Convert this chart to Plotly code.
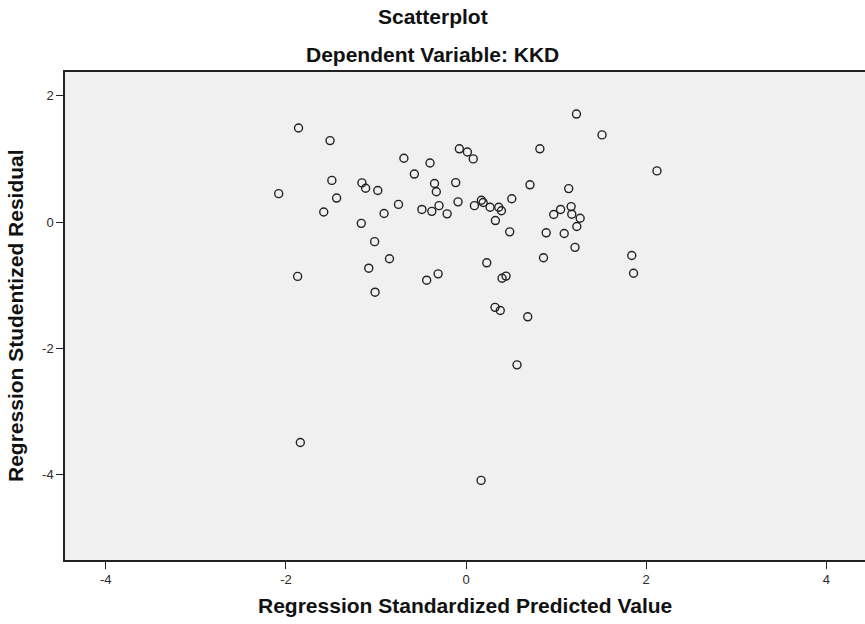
import plotly.graph_objects as go

# Regression Standardized Predicted Value (x) and Studentized Residual (y)
pred_x = [-1.86, -1.51, -0.074, 0.015, 0.08, -0.69, -0.40, -0.574, -1.49, -1.156,
          -1.115, -0.98, -0.35, -0.33, -0.115, -2.08, -1.437, -1.58, -0.75, -0.089,
          0.093, -0.49, -0.38, -0.30, -0.21, -0.91, -1.163, -1.015, -0.85, -1.08,
          -1.87, -0.437, -0.31, -1.01, 1.226, 1.51, 2.12, 0.82, 0.71, 1.14,
          0.17, 0.19, 0.267, 0.363, 0.393, 0.508, 0.326, 0.485, 0.974, 1.05,
          1.167, 1.174, 1.267, 1.23, 0.89, 1.09, 1.21, 0.86, 1.84, 1.86,
          0.23, 0.40, 0.444, 0.322, 0.38, 0.685, 0.566, -1.84, 0.167]
resid_y = [1.49, 1.29, 1.16, 1.11, 1.00, 1.01, 0.935, 0.76, 0.66, 0.62,
           0.535, 0.50, 0.61, 0.48, 0.625, 0.45, 0.38, 0.16, 0.28, 0.32,
           0.26, 0.20, 0.17, 0.26, 0.13, 0.135, -0.02, -0.31, -0.58, -0.73,
           -0.86, -0.92, -0.82, -1.11, 1.71, 1.38, 0.81, 1.16, 0.59, 0.53,
           0.345, 0.31, 0.235, 0.235, 0.18, 0.37, 0.024, -0.155, 0.12, 0.20,
           0.245, 0.125, 0.06, -0.07, -0.17, -0.18, -0.40, -0.565, -0.53, -0.81,
           -0.645, -0.89, -0.855, -1.35, -1.40, -1.50, -2.26, -3.49, -4.09]

x_ticks = [-4, -2, 0, 2, 4]
x_tick_labels = ["-4", "-2", "0", "2", "4"]
y_ticks = [-4, -2, 0, 2]
y_tick_labels = ["-4", "-2", "0", "2"]

W, H = 865, 624
ML, MR, MT, MB = 65, 0, 72, 64
PH = H - MT - MB
PW = W - ML - MR

fig = go.Figure()
fig.add_trace(go.Scatter(
    x=pred_x, y=resid_y, mode="markers",
    marker=dict(symbol="circle-open", size=8, color="#222222",
                line=dict(width=1.4, color="#222222")),
    hoverinfo="x+y", showlegend=False,
))

tick_font = dict(family="Liberation Sans, Arial", size=13, color="#2a2a2a")
axis_common = dict(showgrid=False, zeroline=False, showline=True, linecolor="#222222",
                   linewidth=1.5, ticks="outside", ticklen=7, tickcolor="#222222",
                   tickwidth=1.2, tickfont=tick_font)

fig.update_layout(
    width=W, height=H,
    margin=dict(l=ML, r=MR, t=MT, b=MB, pad=0),
    paper_bgcolor="white", plot_bgcolor="#F0F0F0",
    xaxis=dict(range=[-4.453, 4.43], tickvals=x_ticks, ticktext=x_tick_labels,
               mirror=True, **axis_common),
    yaxis=dict(range=[-5.35, 2.376], tickvals=y_ticks, ticktext=y_tick_labels, **axis_common),
    font=dict(family="Liberation Sans, Arial", color="#111111"),
)

def py(pix):
    return 1 + (MT - pix) / PH

title_font = dict(size=21, family="Liberation Sans, Arial", color="#111111")
fig.add_annotation(text="<b>Scatterplot</b>", xref="paper", yref="paper",
                   x=(W / 2 - ML) / PW, y=py(16), xanchor="center", yanchor="middle",
                   showarrow=False, font=title_font)
fig.add_annotation(text="<b>Dependent Variable: KKD</b>", xref="paper", yref="paper",
                   x=(W / 2 - ML) / PW, y=py(54), xanchor="center", yanchor="middle",
                   showarrow=False, font=title_font)
axis_title_font = dict(size=21, family="Liberation Sans, Arial", color="#111111")
fig.add_annotation(text="<b>Regression Standardized Predicted Value</b>", xref="paper", yref="paper",
                   x=0.5, y=py(605), xanchor="center", yanchor="middle",
                   showarrow=False, font=axis_title_font)
fig.add_annotation(text="<b>Regression Studentized Residual</b>", xref="paper", yref="paper",
                   x=(15 - ML) / PW, y=0.5, xanchor="center", yanchor="middle", textangle=-90,
                   showarrow=False, font=axis_title_font)

fig.write_html("out.html")
